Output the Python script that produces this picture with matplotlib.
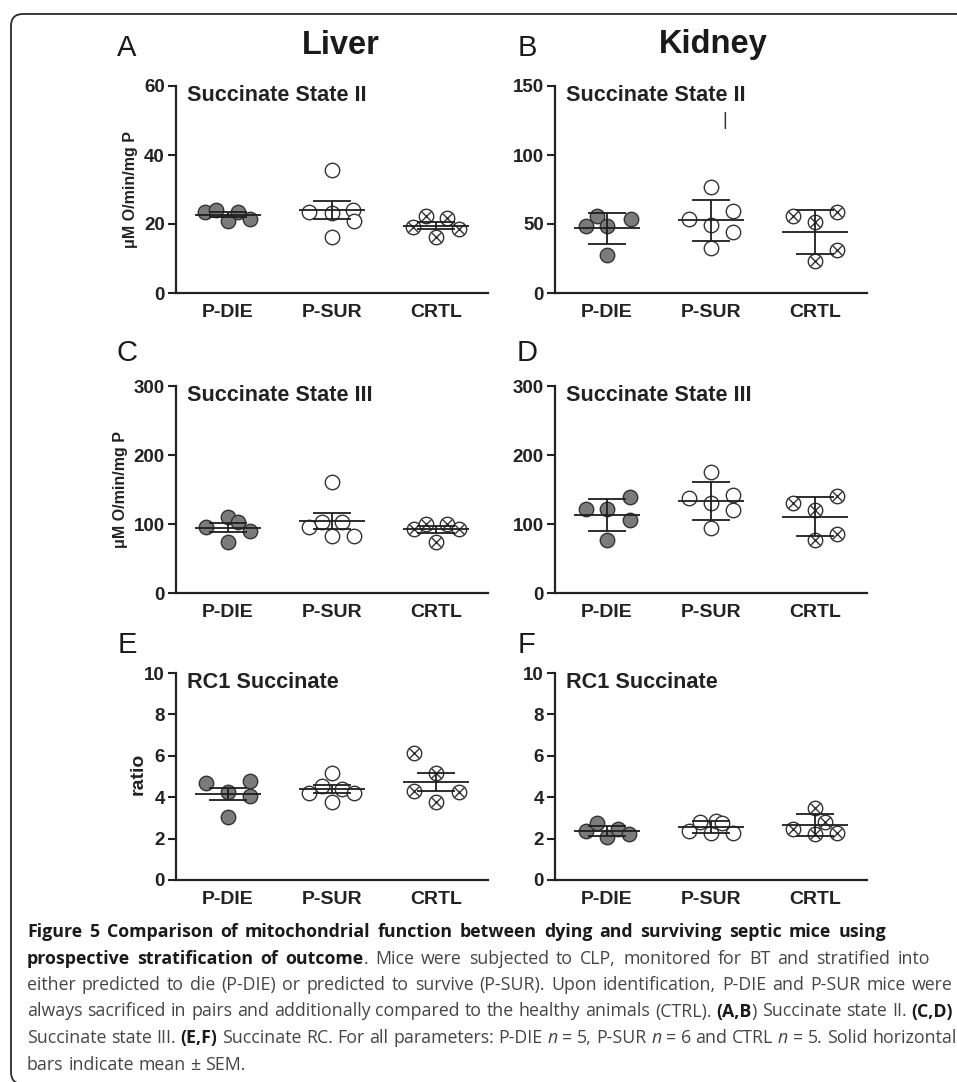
import numpy as np
import matplotlib
matplotlib.use("Agg")
import matplotlib.pyplot as plt
from matplotlib.patches import FancyBboxPatch

# ---------------- data ----------------
categories = ["P-DIE", "P-SUR", "CRTL"]

liver_s2_pdie = [23.6, 24.1, 21.0, 23.6, 21.4]
liver_s2_psur = [35.7, 23.6, 23.1, 24.1, 21.0, 16.2]
liver_s2_crtl = [19.0, 22.2, 16.2, 21.7, 18.5]

kidney_s2_pdie = [48.9, 55.9, 48.7, 53.5, 27.7]
kidney_s2_psur = [53.8, 76.7, 49.0, 59.1, 44.1, 32.6]
kidney_s2_crtl = [55.5, 58.6, 51.8, 30.9, 22.9]

liver_s3_pdie = [95.3, 110.7, 102.6, 90.0, 74.6]
liver_s3_psur = [161.3, 95.3, 102.6, 102.6, 82.8, 82.8]
liver_s3_crtl = [92.9, 100.1, 74.6, 100.1, 92.9]

kidney_s3_pdie = [121.3, 121.3, 139.6, 105.9, 77.0]
kidney_s3_psur = [137.2, 175.7, 131.0, 142.0, 120.4, 93.9]
kidney_s3_crtl = [130.0, 141.0, 120.4, 85.7, 77.0]

liver_rc_pdie = [4.68, 4.24, 4.76, 4.06, 3.06]
liver_rc_psur = [5.16, 4.56, 4.19, 4.39, 4.19, 3.79]
liver_rc_crtl = [6.13, 5.16, 4.31, 4.27, 3.79]

kidney_rc_pdie = [2.37, 2.73, 2.10, 2.45, 2.21]
kidney_rc_psur = [2.37, 2.81, 2.26, 2.85, 2.77, 2.26]
kidney_rc_crtl = [2.48, 3.50, 2.81, 2.21, 2.29]

ticks_s2_liver = [0, 20, 40, 60]
ticks_s2_kidney = [0, 50, 100, 150]
ticks_s3 = [0, 100, 200, 300]
ticks_rc = [0, 2, 4, 6, 8, 10]

# ---------------- layout / style (point scatter offsets within a group) ----------------
off_A = [[-0.22, -0.115, 0, 0.10, 0.215], [0, -0.22, 0, 0.20, 0.21, 0], [-0.22, -0.10, 0, 0.105, 0.22]]
off_B = [[-0.20, -0.096, 0, 0.23, 0], [-0.215, 0, 0, 0.21, 0.21, 0], [-0.21, 0.21, 0, 0.21, 0]]
off_C = [[-0.21, 0, 0.10, 0.215, 0], [0, -0.22, -0.10, 0.10, 0, 0.21], [-0.215, -0.10, 0, 0.105, 0.22]]
off_D = [[-0.20, 0, 0.225, 0.225, 0], [-0.215, 0, 0, 0.21, 0.21, 0], [-0.21, 0.21, 0, 0.21, 0]]
off_E = [[-0.21, 0, 0.215, 0.215, 0], [0, -0.10, -0.22, 0.10, 0.21, 0], [-0.21, 0, -0.21, 0.22, 0]]
off_F = [[-0.20, -0.096, 0, 0.11, 0.21], [-0.215, -0.11, 0, 0.05, 0.105, 0.21], [-0.21, 0, 0.10, 0, 0.21]]

W, H = 957, 1082
fig = plt.figure(figsize=(W / 100, H / 100), dpi=100)
FONT = ["Liberation Sans", "DejaVu Sans"]
EDGE = "#333333"
LINE = "#1e1e1e"


def add_axes_px(left, top, right, bottom):
    return fig.add_axes([left / W, 1 - bottom / H, (right - left) / W, (bottom - top) / H])


def panel(ax, groups, offsets, yticks, subtitle, err_kind):
    ms = 10.4
    for i, (vals, offs) in enumerate(zip(groups, offsets)):
        vals = np.asarray(vals, float)
        xs = i + np.asarray(offs, float)
        if i == 0:
            ax.plot(xs, vals, "o", ms=ms, mfc="#7b7b7b", mec=EDGE, mew=1.0, ls="none", clip_on=False, zorder=2)
        elif i == 1:
            ax.plot(xs, vals, "o", ms=ms, mfc="white", mec=EDGE, mew=1.0, ls="none", clip_on=False, zorder=2)
        else:
            ax.plot(xs, vals, "o", ms=ms, mfc="white", mec=EDGE, mew=1.0, ls="none", clip_on=False, zorder=2)
            ax.plot(xs, vals, "x", ms=ms * 0.66, mec=EDGE, mew=1.0, ls="none", clip_on=False, zorder=2)
        m = vals.mean()
        sd = vals.std(ddof=1)
        e = sd / np.sqrt(len(vals)) if err_kind == "sem" else sd
        ax.hlines(m, i - 0.32, i + 0.32, color=LINE, lw=1.3, zorder=3)
        ax.vlines(i, m - e, m + e, color=LINE, lw=1.3, zorder=3)
        ax.hlines([m - e, m + e], i - 0.18, i + 0.18, color=LINE, lw=1.3, zorder=3)
    ax.set_xlim(-0.5, 2.5)
    ax.set_ylim(yticks[0], yticks[-1])
    ax.set_yticks(yticks)
    ax.set_yticklabels([str(t) for t in yticks], fontfamily=FONT, fontweight="bold", fontsize=13.5, color="#222222")
    ax.set_xticks(range(len(categories)))
    ax.set_xticklabels(categories, fontfamily=FONT, fontweight="bold", fontsize=14, color="#222222")
    ax.tick_params(axis="x", length=0, pad=8)
    ax.tick_params(axis="y", length=6, width=1.5, pad=2, direction="out", color="#222222")
    for s in ("top", "right"):
        ax.spines[s].set_visible(False)
    for s in ("left", "bottom"):
        ax.spines[s].set_linewidth(1.6)
        ax.spines[s].set_color("#222222")
    ax.patch.set_alpha(0)
    ax.text(0.036, 0.955, subtitle, transform=ax.transAxes, ha="left", va="center",
            fontfamily=FONT, fontweight="bold", fontsize=15.6, color="#222222")


LX0, LX1 = 176, 488
RX0, RX1 = 555, 867
rows = [(86, 293), (386, 593), (673, 880)]

axA = add_axes_px(LX0, rows[0][0], LX1, rows[0][1])
axB = add_axes_px(RX0, rows[0][0], RX1, rows[0][1])
axC = add_axes_px(LX0, rows[1][0], LX1, rows[1][1])
axD = add_axes_px(RX0, rows[1][0], RX1, rows[1][1])
axE = add_axes_px(LX0, rows[2][0], LX1, rows[2][1])
axF = add_axes_px(RX0, rows[2][0], RX1, rows[2][1])

panel(axA, [liver_s2_pdie, liver_s2_psur, liver_s2_crtl], off_A, ticks_s2_liver, "Succinate State II", "sem")
panel(axB, [kidney_s2_pdie, kidney_s2_psur, kidney_s2_crtl], off_B, ticks_s2_kidney, "Succinate State II", "sd")
panel(axC, [liver_s3_pdie, liver_s3_psur, liver_s3_crtl], off_C, ticks_s3, "Succinate State III", "sem")
panel(axD, [kidney_s3_pdie, kidney_s3_psur, kidney_s3_crtl], off_D, ticks_s3, "Succinate State III", "sd")
panel(axE, [liver_rc_pdie, liver_rc_psur, liver_rc_crtl], off_E, ticks_rc, "RC1 Succinate", "sem")
panel(axF, [kidney_rc_pdie, kidney_rc_psur, kidney_rc_crtl], off_F, ticks_rc, "RC1 Succinate", "sd")

# stray mark in panel B
axB.text(0.545, 0.835, "|", transform=axB.transAxes, ha="center", va="center",
         fontfamily=FONT, fontsize=13, color="#333333")


def ftext(x, y, s, **kw):
    return fig.text(x / W, 1 - y / H, s, **kw)


# panel letters and column titles
for letter, (x, y) in {"A": (127, 48), "B": (527, 48), "C": (127, 353),
                       "D": (527, 353), "E": (127, 645), "F": (527, 645)}.items():
    ftext(x, y, letter, ha="center", va="center", fontfamily=FONT, fontsize=21, color="#1a1a1a")
ftext(341, 45, "Liver", ha="center", va="center", fontfamily=FONT, fontweight="bold", fontsize=23.5, color="#1a1a1a")
ftext(713, 45, "Kidney", ha="center", va="center", fontfamily=FONT, fontweight="bold", fontsize=23.5, color="#1a1a1a")

# y labels
ftext(130, 189, "μM O/min/mg P", rotation=90, ha="center", va="center",
      fontfamily=FONT, fontweight="bold", fontsize=11.5, color="#222222")
ftext(121, 490, "μM O/min/mg P", rotation=90, ha="center", va="center",
      fontfamily=FONT, fontweight="bold", fontsize=11.5, color="#222222")
ftext(138, 774, "ratio", rotation=90, ha="center", va="center",
      fontfamily=FONT, fontweight="bold", fontsize=14, color="#222222")

# frame
frame = FancyBboxPatch((0.11, -0.02), 9.9, 10.68 + 0.02, boxstyle="round,pad=0,rounding_size=0.12",
                       transform=fig.dpi_scale_trans, fill=False, ec="#2a2a2a", lw=1.3)
fig.add_artist(frame)

# caption
CAP_FONT = ["Open Sans", "DejaVu Sans"]
renderer = fig.canvas.get_renderer()
_cache = {}


def style_kw(style, fs):
    kw = dict(fontfamily=CAP_FONT, fontsize=fs, va="baseline", ha="left")
    if style == "b":
        kw.update(fontweight="bold", color="#1a1a1a")
    elif style == "i":
        kw.update(fontstyle="italic", color="#454545")
    else:
        kw.update(fontweight="normal", color="#454545")
    return kw


def measure(s, style, fs):
    key = (s, style, round(fs, 4))
    if key not in _cache:
        t = fig.text(0, 0, s, **style_kw(style, fs))
        _cache[key] = t.get_window_extent(renderer).width
        t.remove()
    return _cache[key]


def space_w(style, fs):
    return measure("a a", style, fs) - measure("aa", style, fs)


def line_layout(segs, fs, extra=0.0):
    out = []
    x = 0.0
    for txt, style in segs:
        sw = space_w(style, fs)
        parts = txt.split(" ")
        for j, p in enumerate(parts):
            if j > 0:
                x += sw + extra
            if p:
                out.append((x, p, style))
                x += measure(p, style, fs)
    return out, x


def n_spaces(segs):
    return sum(txt.count(" ") for txt, _ in segs)


caption = [
    [("Figure 5 Comparison of mitochondrial function between dying and surviving septic mice using", "b")],
    [("prospective stratification of outcome", "b"),
     (". Mice were subjected to CLP, monitored for BT and stratified into", "r")],
    [("either predicted to die (P-DIE) or predicted to survive (P-SUR). Upon identification, P-DIE and P-SUR mice were", "r")],
    [("always sacrificed in pairs and additionally compared to the healthy animals (CTRL). ", "r"),
     ("(A,B", "b"), (") Succinate state II. ", "r"), ("(C,D)", "b")],
    [("Succinate state III. ", "r"), ("(E,F)", "b"), (" Succinate RC. For all parameters: P-DIE ", "r"),
     ("n", "i"), (" = 5, P-SUR ", "r"), ("n", "i"), (" = 6 and CTRL ", "r"), ("n", "i"),
     (" = 5. Solid horizontal", "r")],
    [("bars indicate mean \u00b1 SEM.", "r")],
]
cap_x0 = 27
line_right = [908, 932, 953, 953, 953, None]

base_fs = 12.0
ratio = min((r - cap_x0) / line_layout(segs, base_fs)[1]
            for segs, r in zip(caption, line_right) if r is not None)
cap_fs = base_fs * ratio
y0, dy = 937, 26.5
for k, (segs, r) in enumerate(zip(caption, line_right)):
    extra = 0.0
    if r is not None:
        nat = line_layout(segs, cap_fs)[1]
        ns = n_spaces(segs)
        if ns:
            extra = min(2.5, max(0.0, (r - cap_x0 - nat) / ns))
    words, _ = line_layout(segs, cap_fs, extra)
    for xo, wtxt, style in words:
        ftext(cap_x0 + xo, y0 + k * dy, wtxt, **style_kw(style, cap_fs))

fig.savefig("out.png", dpi=100)
